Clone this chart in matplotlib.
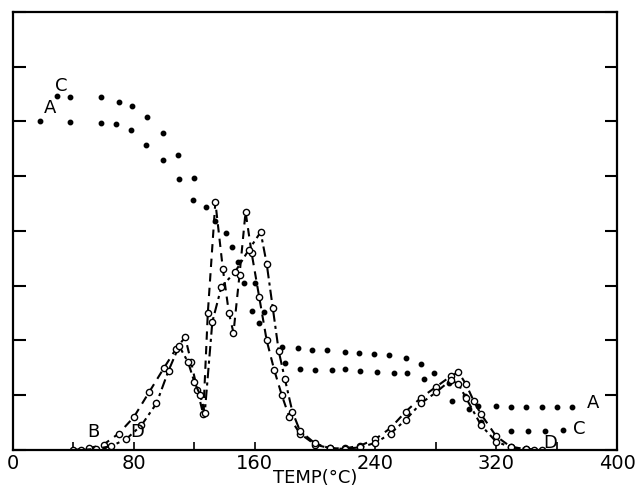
import numpy as np
import matplotlib.pyplot as plt

# Curve A and C (dotted points)
temp_a = [18, 38, 58, 68, 78, 88, 99, 110, 119, 134, 145, 158, 163, 180, 190, 200, 211,
          220, 230, 241, 252, 261, 279, 289, 299, 308, 320, 330, 340, 350, 360, 370]
val_a = [6.0, 5.99, 5.97, 5.95, 5.85, 5.57, 5.3, 4.95, 4.57, 4.18, 3.71, 2.54, 2.32, 1.59,
         1.48, 1.46, 1.46, 1.48, 1.44, 1.42, 1.40, 1.40, 1.40, 1.22, 0.99, 0.81, 0.80,
         0.79, 0.79, 0.79, 0.79, 0.78]

temp_c = [29, 38, 58, 70, 79, 89, 99, 109, 120, 128, 141, 149, 153, 160, 166, 178, 189,
          198, 208, 220, 229, 239, 249, 260, 270, 272, 291, 302, 310, 330, 341, 352, 364]
val_c = [6.47, 6.45, 6.45, 6.36, 6.29, 6.08, 5.79, 5.39, 4.97, 4.44, 3.96, 3.43, 3.05,
         3.05, 2.52, 1.88, 1.86, 1.83, 1.83, 1.79, 1.77, 1.75, 1.74, 1.68, 1.57, 1.30,
         0.90, 0.75, 0.51, 0.35, 0.35, 0.35, 0.36]

# Curve B and D (dashed with open circles)
temp_b = [40, 50, 60, 70, 80, 90, 100, 108, 114, 118, 122, 126, 129, 134, 139, 143, 146,
          150, 154, 158, 163, 168, 173, 178, 183, 190, 200, 210, 220, 230, 240, 250, 260,
          270, 280, 290, 295, 300, 305, 310, 320, 330, 340, 350]
val_b = [0, 0.03, 0.1, 0.3, 0.6, 1.05, 1.5, 1.85, 2.06, 1.6, 1.1, 0.65, 2.5, 4.53, 3.3,
         2.5, 2.14, 3.2, 4.35, 3.6, 2.8, 2.0, 1.46, 1.0, 0.6, 0.3, 0.1, 0.03, 0.03, 0.08,
         0.2, 0.4, 0.7, 0.95, 1.15, 1.35, 1.42, 1.2, 0.9, 0.65, 0.25, 0.05, 0.02, 0]

temp_d = [45, 55, 65, 75, 85, 95, 103, 110, 116, 120, 124, 127, 132, 138, 147, 156, 164,
          168, 172, 176, 180, 185, 190, 200, 210, 220, 230, 240, 250, 260, 270, 280, 290,
          295, 300, 310, 320, 330, 340, 345]
val_d = [0, 0.02, 0.07, 0.2, 0.45, 0.85, 1.45, 1.9, 1.6, 1.25, 1.0, 0.68, 2.34, 2.98,
         3.25, 3.65, 3.98, 3.4, 2.6, 1.8, 1.3, 0.7, 0.35, 0.12, 0.03, 0.02, 0.05, 0.13,
         0.3, 0.55, 0.85, 1.05, 1.28, 1.2, 0.95, 0.45, 0.15, 0.05, 0.02, 0]

x_ticks = [0, 80, 160, 240, 320, 400]

fig = plt.figure(figsize=(6.41, 4.92), dpi=100)
ax = fig.add_axes([0.0203, 0.0854, 0.9423, 0.8902])

ax.plot(temp_a, val_a, linestyle='none', marker='o', color='black', markersize=3.2)
ax.plot(temp_c, val_c, linestyle='none', marker='o', color='black', markersize=3.2)
ax.plot(temp_b, val_b, linestyle=(0, (4, 3)), color='black', linewidth=1.5,
        marker='o', markersize=4.5, markerfacecolor='white', markeredgewidth=1)
ax.plot(temp_d, val_d, linestyle=(0, (5, 2, 1.5, 2)), color='black', linewidth=1.5,
        marker='o', markersize=4.5, markerfacecolor='white', markeredgewidth=1)

# curve labels
lab = dict(fontsize=13, color='black', ha='center', va='center')
ax.text(24.5, 6.25, 'A', **lab)
ax.text(32, 6.65, 'C', **lab)
ax.text(53, 0.33, 'B', **lab)
ax.text(82, 0.33, 'D', **lab)
ax.text(384, 0.86, 'A', **lab)
ax.text(375, 0.38, 'C', **lab)
ax.text(356, 0.13, 'D', **lab)

ax.set_xlim(0, 400)
ax.set_ylim(0, 8)
ax.set_xticks(x_ticks)
ax.set_xticks(np.arange(40, 400, 80), minor=True)
ax.set_yticks(np.arange(0, 9, 1))
ax.set_yticklabels([])
ax.tick_params(axis='x', which='both', direction='in', length=6, width=1.2,
               labelsize=14, pad=3)
ax.tick_params(axis='y', direction='in', length=9, width=1.5, left=True, right=True)
for s in ax.spines.values():
    s.set_linewidth(1.6)

ax.set_xlabel('TEMP(°C)', fontsize=13, labelpad=-3)

plt.savefig('out.png', dpi=100)
